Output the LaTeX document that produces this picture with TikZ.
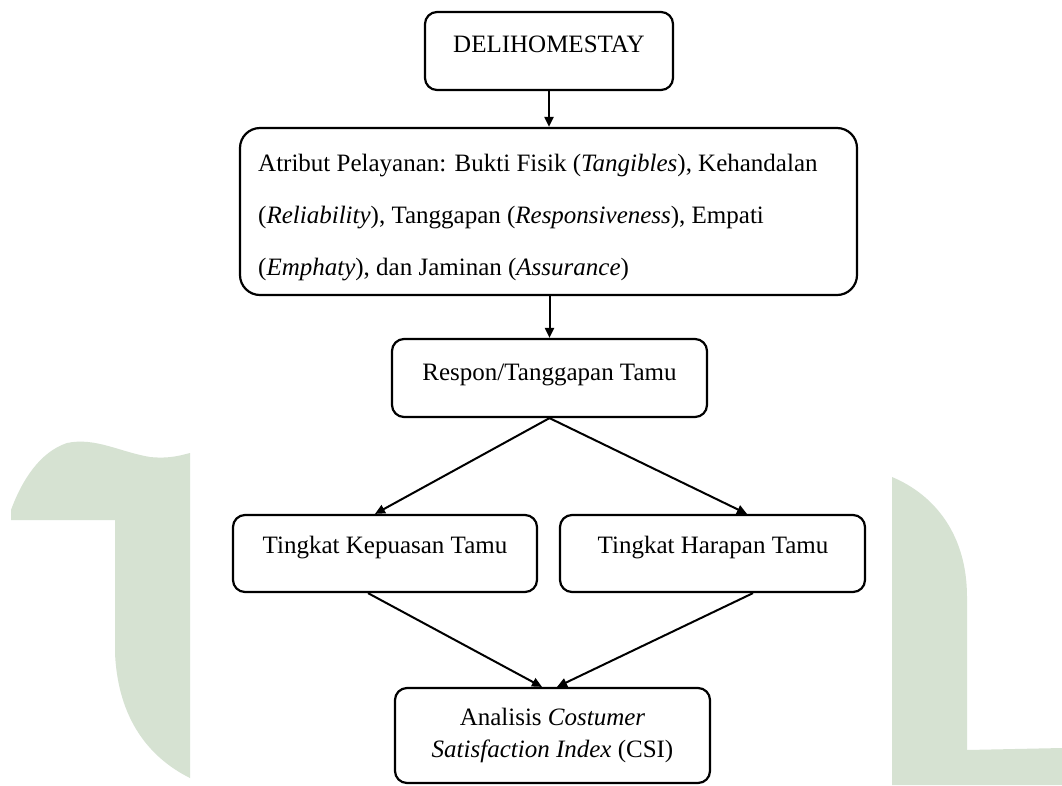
\documentclass[tikz,border=0pt]{standalone}
\usepackage{fontspec}
\setmainfont{Liberation Serif}
\usetikzlibrary{arrows.meta}
\definecolor{wm}{RGB}{214,226,210}
\begin{document}
\begin{tikzpicture}[x=1pt,y=-1pt,
  box/.style={draw=black, line width=2.2pt, rounded corners=12pt, inner sep=0pt, fill=white},
  bigbox/.style={box, rounded corners=20pt},
  txt/.style={inner sep=0pt, anchor=base, font=\fontsize{25}{32}\selectfont},
  arr/.style={line width=2pt, -{Triangle[length=10pt,width=9pt]}}]
\useasboundingbox (0,0) rectangle (1062,785);
\fill[white] (0,0) rectangle (1062,785);
% watermark shapes
\fill[wm] (11,520) -- (11,510)
  .. controls (22,480) and (40,452) .. (67,443)
  .. controls (95,437) and (120,452) .. (150,457)
  .. controls (170,459) and (182,455) .. (190,453)
  -- (190,778)
  .. controls (150,758) and (118,720) .. (115,653)
  -- (115,520) -- cycle;
\fill[wm] (892,477)
  .. controls (935,495) and (967,535) .. (967,597)
  -- (967,750) -- (1062,748) -- (1062,785) -- (892,785) -- cycle;
% boxes
\node[box, minimum width=248pt, minimum height=78pt] (b1) at (549,51) {};
\node[bigbox, minimum width=617pt, minimum height=167pt] (b2) at (548.5,211.5) {};
\node[box, minimum width=315pt, minimum height=78pt] (b3) at (549.5,378) {};
\node[box, minimum width=304pt, minimum height=77pt] (b4) at (385,553.5) {};
\node[box, minimum width=305pt, minimum height=77pt] (b5) at (712.5,553.5) {};
\node[box, minimum width=315pt, minimum height=95pt] (b6) at (552.5,735.5) {};
% texts
\node[txt] (t1) at (549,52) {DELIHOMESTAY};
\node[txt, anchor=base west] (t2a) at (258,171) {Atribut Pelayanan: Bukti Fisik (\textit{Tangibles}), Kehandalan};
\node[txt, anchor=base west] (t2b) at (258,223) {(\textit{Reliability}), Tanggapan (\textit{Responsiveness}), Empati};
\node[txt, anchor=base west] (t2c) at (258,275) {(\textit{Emphaty}), dan Jaminan (\textit{Assurance})};
\node[txt] (t3) at (549.5,380) {Respon/Tanggapan Tamu};
\node[txt] (t4) at (385,553) {Tingkat Kepuasan Tamu};
\node[txt] (t5) at (713,553) {Tingkat Harapan Tamu};
\node[txt] (t6a) at (552.5,725) {Analisis \textit{Costumer}};
\node[txt] (t6b) at (552.5,757) {\textit{Satisfaction Index} (CSI)};
% connectors
\draw[arr] (b1.south) -- (b1.south |- b2.north);
\draw[arr] (b2.south -| b3.north) -- (b3.north);
\draw[arr] (b3.south) -- ([xshift=-10pt]b4.north);
\draw[arr] (b3.south) -- ([xshift=34.5pt]b5.north);
\draw[arr] ([xshift=-17pt]b4.south) -- ([xshift=-10.5pt]b6.north);
\draw[arr] ([xshift=40.5pt]b5.south) -- ([xshift=4.5pt]b6.north);
\end{tikzpicture}
\end{document}
